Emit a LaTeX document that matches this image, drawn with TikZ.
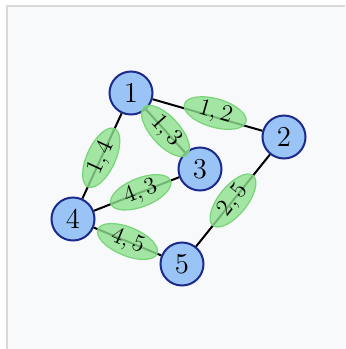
\documentclass[tikz,border=0pt]{standalone}
\usepackage{amsmath}
\usepackage{tikz}
\usetikzlibrary{positioning, shapes.geometric}
\definecolor{vblue}{HTML}{99C4F5}
\definecolor{vnavy}{HTML}{1C2A8C}
\definecolor{egreen}{HTML}{8EE08E}
\definecolor{edgegreen}{HTML}{78D478}
\definecolor{panel}{HTML}{F8F9FB}
\definecolor{frame}{HTML}{D9D9D9}

\begin{document}
\begin{tikzpicture}[
  x=0.5pt, y=-0.5pt,
  vertex/.style={circle, draw=vnavy, fill=vblue, line width=1pt, minimum size=21.5pt, inner sep=0pt, font=\Large},
  elabel/.style={ellipse, draw=edgegreen, fill=egreen, fill opacity=0.8, text opacity=1, line width=0.6pt, minimum width=32pt, minimum height=13.5pt, inner sep=0pt, sloped, font=\large},
  link/.style={line width=1pt}
]
  \useasboundingbox (0,0) rectangle (345,349);
  \fill[panel] (7,6) rectangle (345,349);
  \draw[frame, line width=0.6pt] (7,349) -- (7,6) -- (345,6);

  \node[vertex] (v1) at (131,93) {1};
  \node[vertex] (v2) at (284,137) {2};
  \node[vertex] (v3) at (200,169) {3};
  \node[vertex] (v4) at (73,219) {4};
  \node[vertex] (v5) at (182,264) {5};

  \draw[link] (v1) -- node[elabel, pos=0.56, yshift=2pt] {$1,2$} (v2);
  \draw[link] (v1) -- node[elabel] {$1,3$} (v3);
  \draw[link] (v1) -- node[elabel, pos=0.52] {$1,4$} (v4);
  \draw[link] (v4) -- node[elabel, pos=0.55] {$4,3$} (v3);
  \draw[link] (v4) -- node[elabel] {$4,5$} (v5);
  \draw[link] (v2) -- node[elabel] {$2,5$} (v5);
\end{tikzpicture}
\end{document}
